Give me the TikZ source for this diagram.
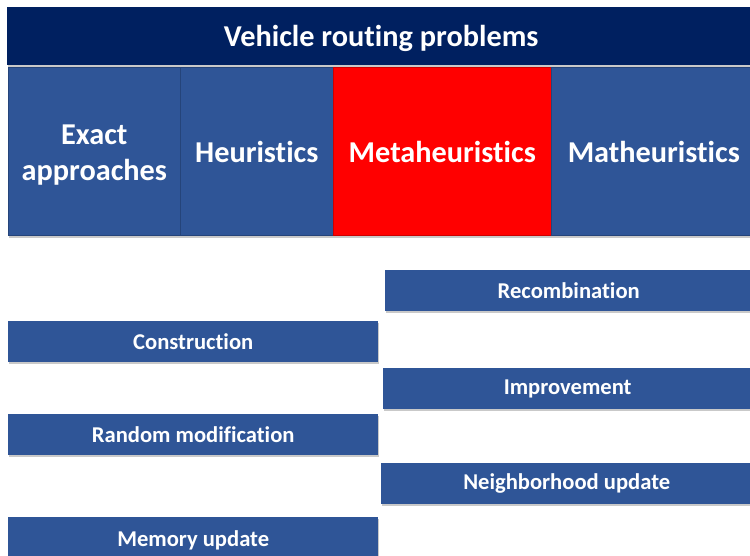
\documentclass[tikz,border=0pt]{standalone}
\usepackage{fontspec}
\setmainfont{Carlito}[RawFeature={-liga;-clig;-calt;-dlig}]
\usetikzlibrary{shadows}
\definecolor{navy}{RGB}{0,32,96}
\definecolor{boxblue}{RGB}{47,85,151}
\definecolor{edgeblue}{RGB}{37,68,122}
\newcommand{\lowered}[2]{\raisebox{-#1}[\height][\depth]{#2}}
\begin{document}
\begin{tikzpicture}[x=1pt,y=-1pt,
  base/.style={anchor=north west, inner sep=0pt, text=white, font=\bfseries, align=center,
    drop shadow={shadow xshift=1pt, shadow yshift=-2pt, opacity=.35, fill=black!60}},
  titlebox/.style={base, fill=navy, font=\bfseries\fontsize{30.3}{34}\selectfont},
  catbox/.style={base, fill=boxblue, draw=edgeblue, line width=0.6pt, minimum height=168pt, font=\bfseries\fontsize{30.3}{36}\selectfont},
  hotbox/.style={catbox, fill=red, draw=red!80!black},
  stepbox/.style={base, fill=boxblue, minimum height=41pt, font=\bfseries\fontsize{22.6}{26}\selectfont}]
\useasboundingbox[fill=white] (0,0) rectangle (750,556);
\begin{scope}
\clip (0,0) rectangle (750,556);
\node[titlebox, minimum width=748pt, minimum height=58pt] (vrp) at (7,7) {\lowered{2.5pt}{Vehicle routing problems}};
\node[catbox, minimum width=172pt] (exact) at (8,67.5) {\lowered{3pt}{\parbox{170pt}{\centering Exact\\approaches}}};
\node[catbox, minimum width=153pt] (heur) at (180,67.5) {Heuristics};
\node[hotbox, minimum width=218pt] (meta) at (333,67.5) {Metaheuristics};
\node[catbox, minimum width=205pt] (math) at (551,67.5) {Matheuristics};
\node[stepbox, minimum width=367pt] (recomb) at (385,270) {Recombination};
\node[stepbox, minimum width=370pt] (constr) at (8,321) {Construction};
\node[stepbox, minimum width=369pt] (improve) at (383,368) {Improvement};
\node[stepbox, minimum width=370pt] (random) at (8,414) {Random modification};
\node[stepbox, minimum width=371pt] (neigh) at (381,463) {Neighborhood update};
\node[stepbox, minimum width=370pt, minimum height=45pt] (memory) at (8,517) {\lowered{1pt}{Memory update}};
\end{scope}
\end{tikzpicture}
\end{document}
